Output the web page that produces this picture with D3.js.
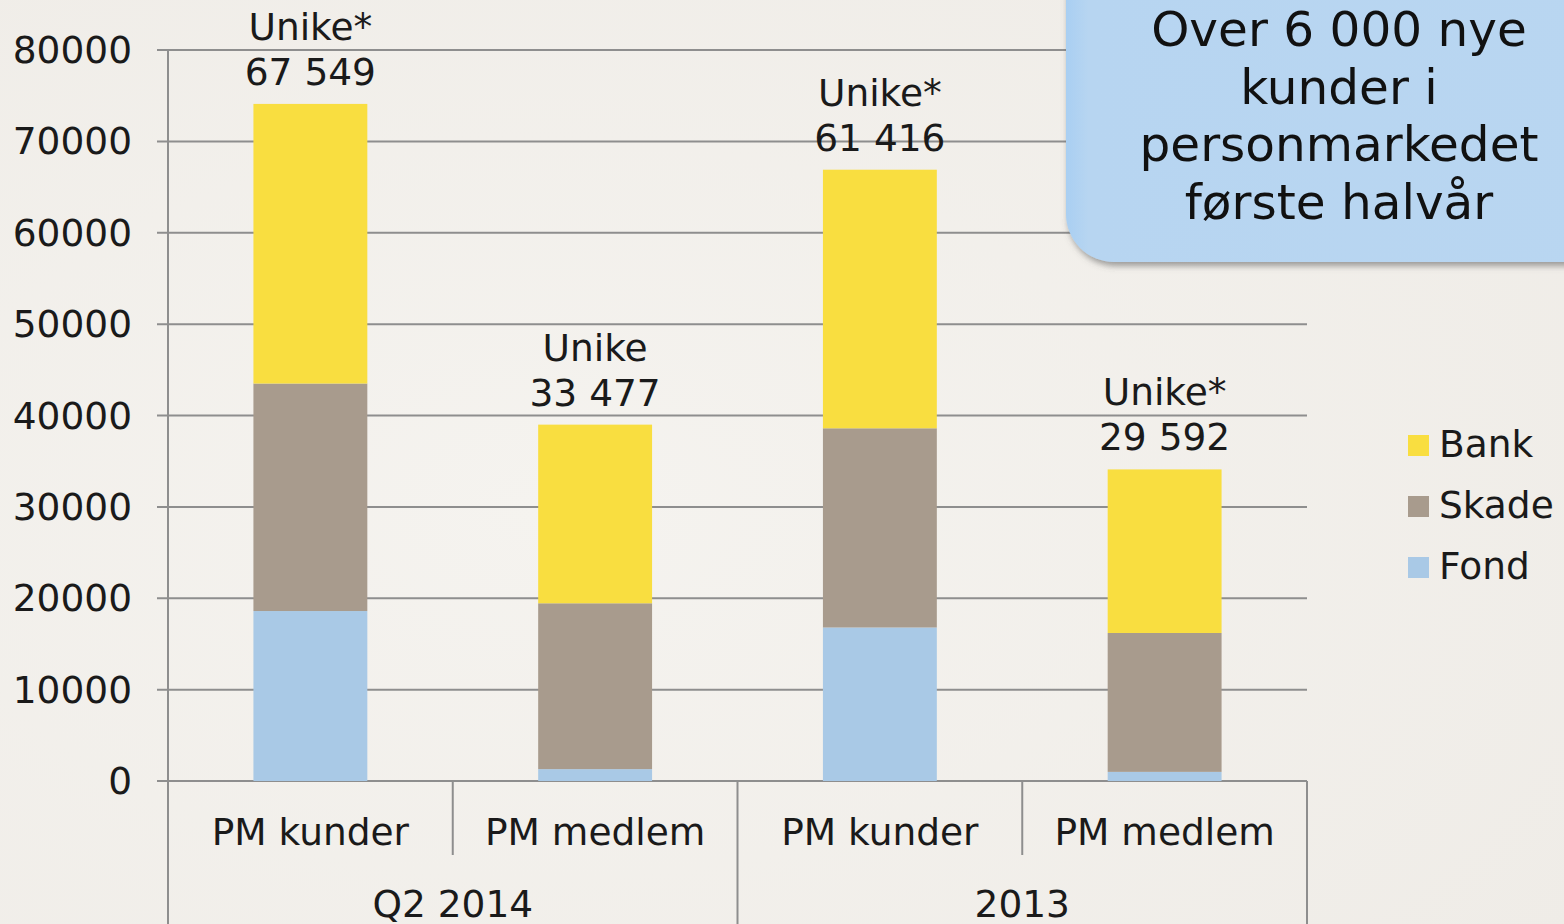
<!DOCTYPE html>
<html><head><meta charset="utf-8">
<script src="https://cdn.jsdelivr.net/npm/d3@7"></script>
<style>
html,body{margin:0;padding:0;background:#f3f1ed;}
svg{display:block;font-family:"DejaVu Sans",Verdana,sans-serif;}
</style></head>
<body>
<script>
const categories = ["PM kunder","PM medlem","PM kunder","PM medlem"];
const groups = ["Q2 2014","2013"];
const seriesNames = ["Fond","Skade","Bank"];
const fond  = [18600, 1300, 16800, 1000];
const skade = [24900, 18150, 21800, 15200];
const bank  = [30600, 19550, 28300, 17900];
const uniqueTitles = ["Unike*","Unike","Unike*","Unike*"];
const uniqueValues = ["67 549","33 477","61 416","29 592"];
const yTicks = [0,10000,20000,30000,40000,50000,60000,70000,80000];
const calloutLines = ["Over 6 000 nye","kunder i","personmarkedet","første halvår"];

const colors = {Bank:"#f9de40", Skade:"#a89b8d", Fond:"#a9c9e6"};
const W = 1564, H = 924;
const m = {left:168, right:1307, top:50, bottom:781};
const FS = 37.5;

const svg = d3.select("body").append("svg").attr("width",W).attr("height",H);
const defs = svg.append("defs");
const bg = defs.append("radialGradient").attr("id","bg").attr("cx","0.35").attr("cy","0.55").attr("r","0.8");
bg.append("stop").attr("offset","0").attr("stop-color","#f5f3ef");
bg.append("stop").attr("offset","1").attr("stop-color","#efece7");
svg.append("rect").attr("width",W).attr("height",H).attr("fill","url(#bg)");

const y = d3.scaleLinear().domain([0,80000]).range([m.bottom,m.top]);
const x = d3.scaleBand().domain(d3.range(categories.length)).range([m.left,m.right]).paddingInner(0).paddingOuter(0);
const barW = x.bandwidth()*0.4;

// gridlines
svg.append("g").selectAll("line").data(yTicks).join("line")
  .attr("x1",157).attr("x2",m.right).attr("y1",d=>y(d)).attr("y2",d=>y(d))
  .attr("stroke","#8e8e8e").attr("stroke-width",2);

// y labels
svg.append("g").selectAll("text").data(yTicks).join("text")
  .attr("x",132).attr("y",d=>y(d)+13).attr("text-anchor","end")
  .attr("font-size",FS).attr("fill","#1a1a1a").text(d=>d);

// y axis line
svg.append("line").attr("x1",m.left).attr("x2",m.left).attr("y1",m.top).attr("y2",H)
  .attr("stroke","#8e8e8e").attr("stroke-width",2);

// stacked data
const rows = categories.map((c,i)=>({i, Fond:fond[i], Skade:skade[i], Bank:bank[i]}));
const stack = d3.stack().keys(seriesNames)(rows);
svg.append("g").selectAll("g").data(stack).join("g").attr("fill",d=>colors[d.key])
  .selectAll("rect").data(d=>d).join("rect")
  .attr("x",d=>x(d.data.i)+(x.bandwidth()-barW)/2).attr("width",barW)
  .attr("y",d=>y(d[1])).attr("height",d=>y(d[0])-y(d[1]));

// x axis separators
const sep = svg.append("g").attr("stroke","#8e8e8e").attr("stroke-width",2);
d3.range(categories.length+1).forEach(k=>{
  const xx = k<categories.length ? x(k) : m.right;
  const long = (k%2===0);
  sep.append("line").attr("x1",xx).attr("x2",xx).attr("y1",m.bottom).attr("y2",long?H:855);
});

// category labels
svg.append("g").selectAll("text").data(categories).join("text")
  .attr("x",(d,i)=>x(i)+x.bandwidth()/2).attr("y",845).attr("text-anchor","middle")
  .attr("font-size",FS).attr("fill","#1a1a1a").text(d=>d);
svg.append("g").selectAll("text").data(groups).join("text")
  .attr("x",(d,g)=>x(g*2)+x.bandwidth()).attr("y",917).attr("text-anchor","middle")
  .attr("font-size",FS).attr("fill","#1a1a1a").text(d=>d);

// unique labels
const totals = rows.map(r=>r.Fond+r.Skade+r.Bank);
const lab = svg.append("g").attr("font-size",FS).attr("fill","#1a1a1a").attr("text-anchor","middle");
categories.forEach((c,i)=>{
  const cx = x(i)+x.bandwidth()/2;
  const top = y(totals[i]);
  lab.append("text").attr("x",cx).attr("y",top-19).text(uniqueValues[i]);
  lab.append("text").attr("x",cx).attr("y",top-64).text(uniqueTitles[i]);
});

// legend
const leg = svg.append("g");
["Bank","Skade","Fond"].forEach((k,j)=>{
  const yy = 435 + j*61;
  leg.append("rect").attr("x",1408).attr("y",yy).attr("width",21).attr("height",21).attr("fill",colors[k]);
  leg.append("text").attr("x",1439).attr("y",yy+22).attr("font-size",FS).attr("fill","#1a1a1a").text(k);
});

// callout
const f = defs.append("filter").attr("id","sh").attr("x","-20%").attr("y","-20%").attr("width","140%").attr("height","140%");
f.append("feDropShadow").attr("dx",2).attr("dy",4).attr("stdDeviation",3).attr("flood-color","#555").attr("flood-opacity",0.55);
const cg = defs.append("linearGradient").attr("id","cg").attr("x1","0").attr("x2","1").attr("y1","0").attr("y2","0");
cg.append("stop").attr("offset","0").attr("stop-color","#a9cff2");
cg.append("stop").attr("offset","0.04").attr("stop-color","#b7d5f1");
cg.append("stop").attr("offset","1").attr("stop-color","#b9d6f1");
svg.append("rect").attr("x",1066).attr("y",-60).attr("width",560).attr("height",322).attr("rx",48)
  .attr("fill","url(#cg)").attr("filter","url(#sh)");
svg.append("g").attr("font-size",48.5).attr("fill","#111").attr("text-anchor","middle")
  .selectAll("text").data(calloutLines).join("text")
  .attr("x",1339).attr("y",(d,i)=>46+i*57.5).text(d=>d);
</script>
</body></html>
